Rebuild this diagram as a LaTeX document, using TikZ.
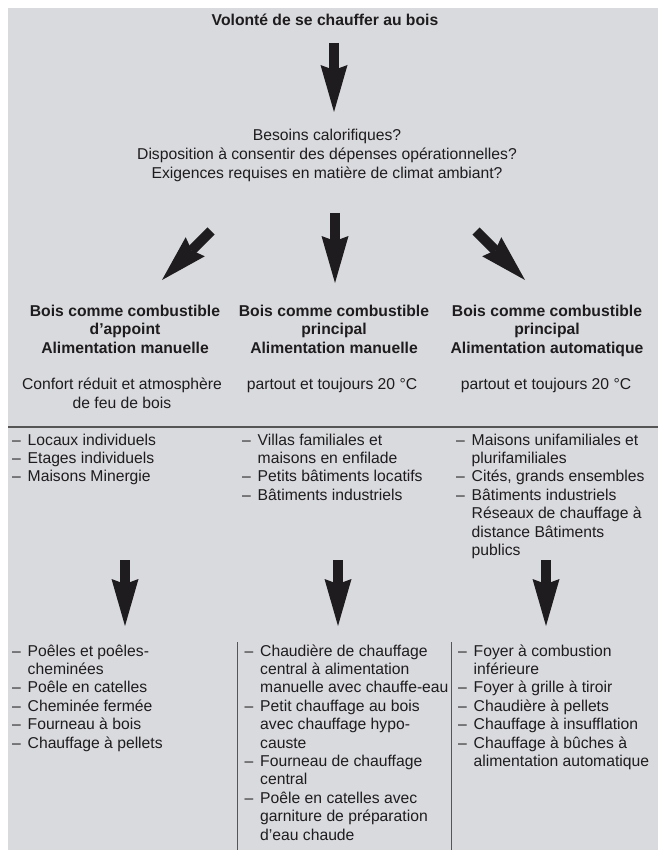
\documentclass[tikz,border=0pt]{standalone}
\usepackage{fontspec}
\setmainfont{Liberation Sans}
\usetikzlibrary{arrows.meta}
\definecolor{bg}{RGB}{217,218,221}
\definecolor{ink}{RGB}{30,28,30}
\definecolor{rulecol}{RGB}{85,85,85}
\newcommand{\dashitem}{\makebox[15.5pt][l]{–}}
\newcommand{\contitem}{\hspace*{15.5pt}}
\begin{document}
\begin{tikzpicture}[x=1pt,y=-1pt,
  txt/.style={inner sep=0pt, font=\fontsize{15.7}{18.4}\selectfont, text=ink},
  hd/.style={inner sep=0pt, font=\fontsize{15.7}{18.5}\selectfont\bfseries, text=ink},
  blockarrow/.style={draw=ink, line width=10pt, -{Stealth[length=47pt,width=27pt,inset=5pt,line width=0pt]}},
  rulesep/.style={draw=rulecol, line width=1.3pt},
  colsep/.style={draw=rulecol, line width=1pt}]
\useasboundingbox (0,0) rectangle (658,850);
\fill[bg] (8,8) rectangle (658,850);

% title and questions
\node[hd, anchor=base] (title) at (325,26) {Volonté de se chauffer au bois};
\node[txt, anchor=base] (q1) at (327,141) {Besoins calorifiques?};
\node[txt, anchor=base] (q2) at (327,160) {Disposition à consentir des dépenses opérationnelles?};
\node[txt, anchor=base] (q3) at (327,179) {Exigences requises en matière de climat ambiant?};

% arrows
\coordinate (a0s) at (334,43);  \coordinate (a0e) at (334,112);
\coordinate (a1s) at (211,231); \coordinate (a1e) at (162,280);
\coordinate (a2s) at (335,213); \coordinate (a2e) at (335,283);
\coordinate (a3s) at (476,231); \coordinate (a3e) at (525,280);
\coordinate (a4s) at (125,560); \coordinate (a4e) at (125,626);
\coordinate (a5s) at (338,560); \coordinate (a5e) at (338,626);
\coordinate (a6s) at (546,560); \coordinate (a6e) at (546,626);
\foreach \k in {0,...,6} \draw[blockarrow] (a\k s) -- (a\k e);

% headings
\foreach \t [count=\i] in {Bois comme combustible, d’appoint, Alimentation manuelle}
  \node[hd, anchor=base] (h1-\i) at (125,{316+18.5*(\i-1)}) {\t};
\foreach \t [count=\i] in {Bois comme combustible, principal, Alimentation manuelle}
  \node[hd, anchor=base] (h2-\i) at (334,{316+18.5*(\i-1)}) {\t};
\foreach \t [count=\i] in {Bois comme combustible, principal, Alimentation automatique}
  \node[hd, anchor=base] (h3-\i) at (547,{316+18.5*(\i-1)}) {\t};

% comfort lines
\node[txt, anchor=base] (c1-1) at (122,389) {Confort réduit et atmosphère};
\node[txt, anchor=base] (c1-2) at (122,408) {de feu de bois};
\node[txt, anchor=base] (c2-1) at (332,389) {partout et toujours 20 °C};
\node[txt, anchor=base] (c3-1) at (546,389) {partout et toujours 20 °C};

% separator
\coordinate (sepL) at (8,427); \coordinate (sepR) at (658,427);
\draw[rulesep] (sepL) -- (sepR);

% upper lists
\foreach \t [count=\i] in {\dashitem Locaux individuels, \dashitem Etages individuels, \dashitem Maisons Minergie}
  \node[txt, anchor=base west] (u1-\i) at (12,{445+18.4*(\i-1)}) {\t};
\foreach \t [count=\i] in {\dashitem Villas familiales et, \contitem maisons en enfilade, \dashitem Petits bâtiments locatifs, \dashitem Bâtiments industriels}
  \node[txt, anchor=base west] (u2-\i) at (242,{445+18.4*(\i-1)}) {\t};
\foreach \t [count=\i] in {\dashitem Maisons unifamiliales et, \contitem plurifamiliales, {\dashitem Cités, grands ensembles}, \dashitem Bâtiments industriels, \contitem Réseaux de chauffage à, \contitem distance Bâtiments, \contitem publics}
  \node[txt, anchor=base west] (u3-\i) at (456,{445+18.4*(\i-1)}) {\t};

% column separators
\coordinate (v1t) at (237,642); \coordinate (v1b) at (237,850);
\coordinate (v2t) at (451,642); \coordinate (v2b) at (451,850);
\draw[colsep] (v1t) -- (v1b);
\draw[colsep] (v2t) -- (v2b);

% lower lists
\foreach \t [count=\i] in {\dashitem Poêles et poêles-, \contitem cheminées, \dashitem Poêle en catelles, \dashitem Cheminée fermée, \dashitem Fourneau à bois, \dashitem Chauffage à pellets}
  \node[txt, anchor=base west] (b1-\i) at (12,{656+18.4*(\i-1)}) {\t};
\foreach \t [count=\i] in {\dashitem Chaudière de chauffage, \contitem central à alimentation, \contitem manuelle avec chauffe-eau, \dashitem Petit chauffage au bois, \contitem avec chauffage hypo-, \contitem causte, \dashitem Fourneau de chauffage, \contitem central, \dashitem Poêle en catelles avec, \contitem garniture de préparation, \contitem d’eau chaude}
  \node[txt, anchor=base west] (b2-\i) at (244.5,{656+18.4*(\i-1)}) {\t};
\foreach \t [count=\i] in {\dashitem Foyer à combustion, \contitem inférieure, \dashitem Foyer à grille à tiroir, \dashitem Chaudière à pellets, \dashitem Chauffage à insufflation, \dashitem Chauffage à bûches à, \contitem alimentation automatique}
  \node[txt, anchor=base west] (b3-\i) at (458,{656+18.4*(\i-1)}) {\t};
\end{tikzpicture}
\end{document}
